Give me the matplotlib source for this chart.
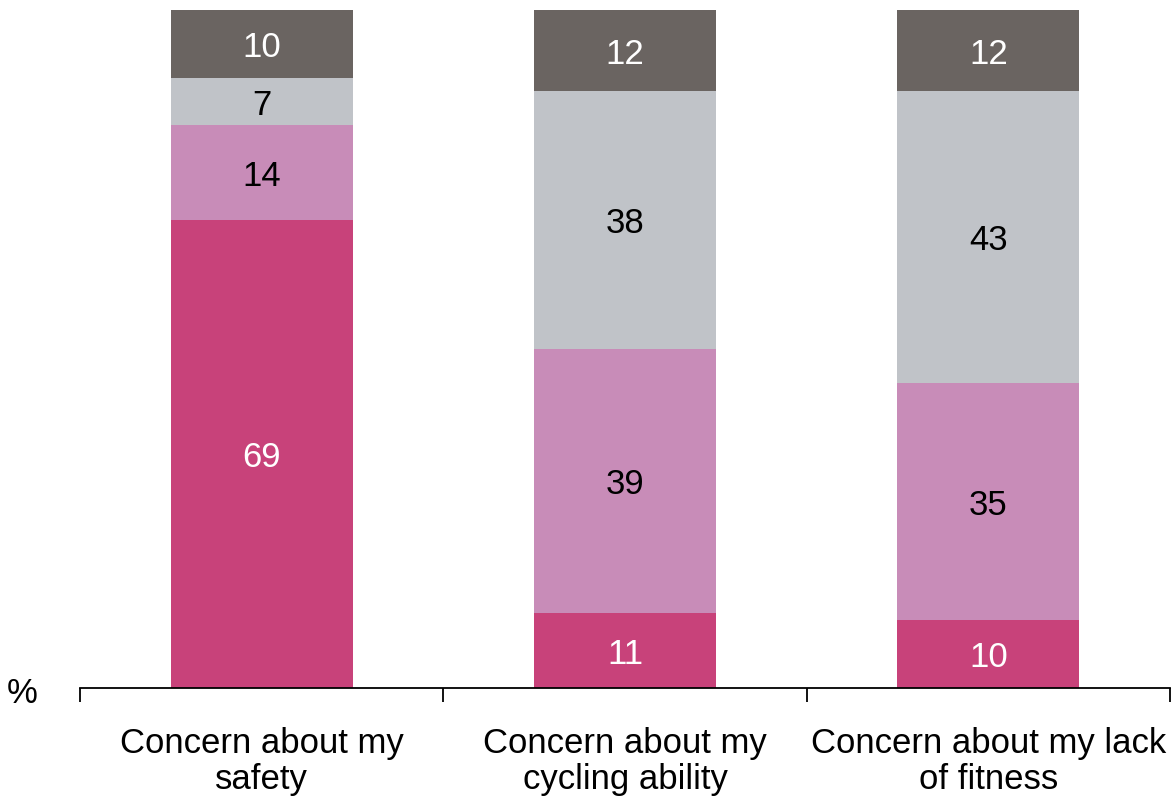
import numpy as np
import matplotlib
matplotlib.use("Agg")
import matplotlib.pyplot as plt

plt.rcParams['font.family'] = ['Liberation Sans', 'DejaVu Sans']

categories = ["Concern about my\nsafety", "Concern about my\ncycling ability", "Concern about my lack\nof fitness"]
seg1 = [69, 11, 10]
seg2 = [14, 39, 35]
seg3 = [7, 38, 43]
seg4 = [10, 12, 12]

colors = ['#C8427A', '#C88CB8', '#C0C3C8', '#6A6461']
text_colors = ['white', 'black', 'black', 'white']

fig = plt.figure(figsize=(11.72, 8.01), dpi=100)
ax = fig.add_axes([80 / 1172, 1 - 688 / 801, 1090 / 1172, 678 / 801])

x = np.arange(len(categories))
bottom = np.zeros(len(categories))
for vals, c, tc in zip([seg1, seg2, seg3, seg4], colors, text_colors):
    vals = np.array(vals)
    ax.bar(x, vals, bottom=bottom, width=0.5, color=c, edgecolor='none')
    for xi, b, v in zip(x, bottom, vals):
        ax.text(xi, b + v / 2, str(v), ha='center', va='center_baseline', fontsize=25, color=tc)
    bottom += vals

ax.set_xlim(-0.5, 2.5)
ax.set_ylim(0, 100)
for s in ['top', 'right', 'left']:
    ax.spines[s].set_visible(False)
ax.spines['bottom'].set_linewidth(1.3)
ax.set_yticks([])
ax.set_xticks([-0.5, 0.5, 1.5, 2.5])
ax.set_xticklabels([])
ax.set_xticks(x, minor=True)
ax.set_xticklabels(categories, minor=True, fontsize=25, linespacing=1.12)
ax.tick_params(axis='x', which='major', length=10, width=1.3, direction='out')
ax.tick_params(axis='x', which='minor', length=0, pad=28)

fig.text(22 / 1172, 1 - 690 / 801, '%', fontsize=25, ha='center', va='center_baseline')

fig.savefig('out.png', dpi=100)
